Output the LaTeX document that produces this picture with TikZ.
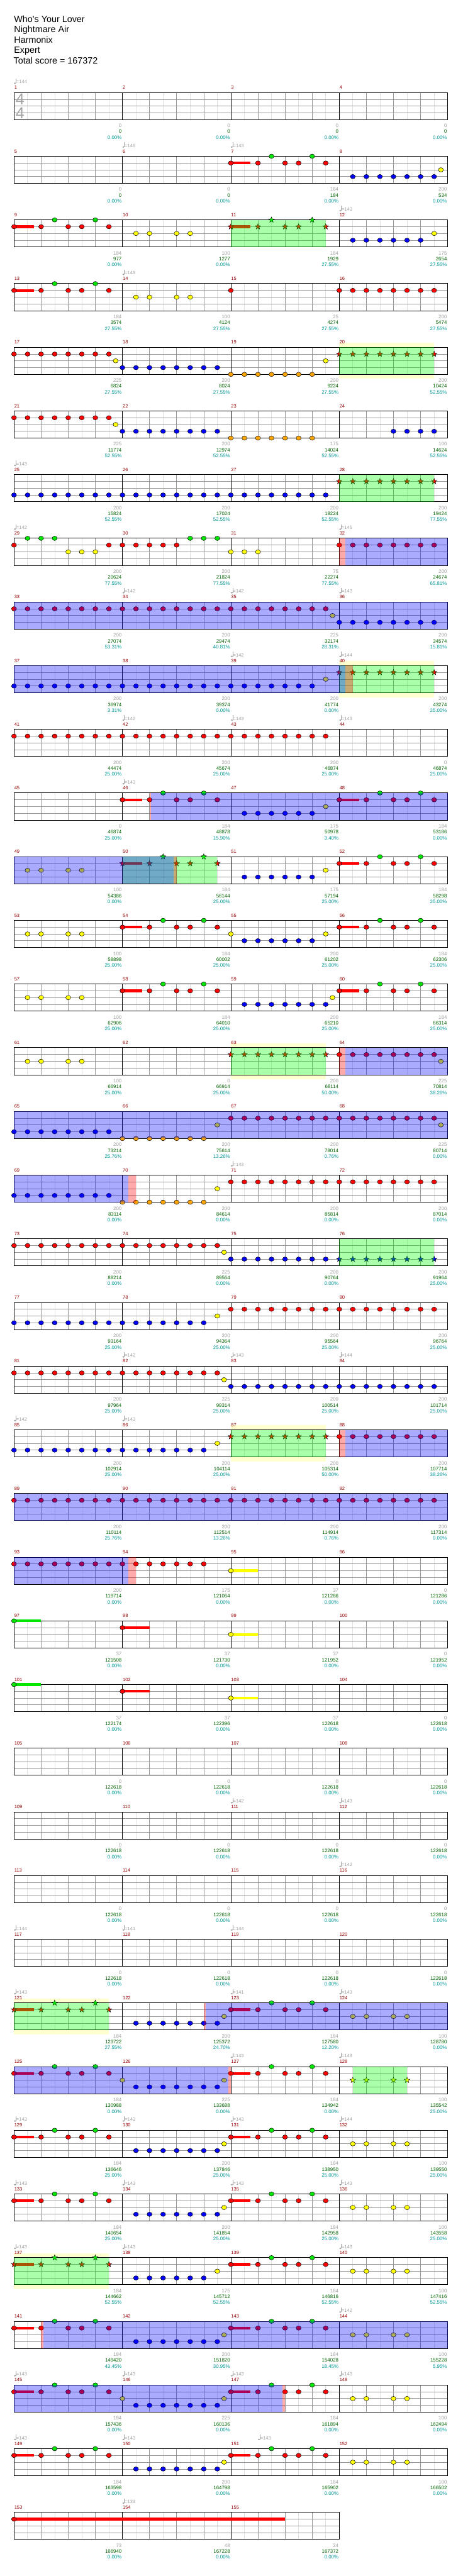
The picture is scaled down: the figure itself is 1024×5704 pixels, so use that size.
\documentclass[tikz,border=0pt]{standalone}
\usepackage{fontspec}
\setmainfont{Liberation Sans}
\usetikzlibrary{shapes.geometric}
\definecolor{cR}{RGB}{255,0,0}
\definecolor{cG}{RGB}{0,230,0}
\definecolor{cY}{RGB}{255,255,0}
\definecolor{cB}{RGB}{0,0,255}
\definecolor{cO}{RGB}{255,165,0}
\definecolor{mnumc}{RGB}{150,0,0}
\definecolor{grayc}{RGB}{160,160,160}
\definecolor{cumc}{RGB}{0,100,0}
\definecolor{pctc}{RGB}{0,150,150}
\definecolor{lEc}{RGB}{225,225,225}
\definecolor{lQc}{RGB}{150,150,150}
\definecolor{ybgc}{RGB}{255,255,208}
\definecolor{tsc}{RGB}{165,165,165}
\tikzset{
 lE/.style={draw=lEc, line width=1},
 lQ/.style={draw=lQc, line width=1},
 lB/.style={draw=black, line width=1},
 lBorder/.style={draw=black, line width=1.4},
 notest/.style={draw=black, line width=0.7},
 starst/.style={star, star points=5, star point ratio=2.4, minimum size=13, inner sep=0pt, draw=black, line width=0.6},
 smalltxt/.style={font=\fontsize{11}{13}\selectfont, inner sep=0pt},
 mnum/.style={font=\fontsize{10.5}{12}\selectfont, inner sep=0pt, text=mnumc, anchor=base west},
 scG/.style={smalltxt, text=grayc, anchor=base east},
 scK/.style={smalltxt, text=cumc, anchor=base east},
 scT/.style={smalltxt, text=pctc, anchor=base east},
 tempotxt/.style={font=\fontsize{10.5}{12}\selectfont, inner sep=0pt, text=grayc, anchor=base west},
 hdr/.style={font=\fontsize{20}{24}\selectfont, inner sep=0pt, anchor=base west},
 tsig/.style={font=\fontsize{35}{35}\selectfont, text=tsc, inner sep=0pt},
}
\newcommand\rowat[1]{\pgfmathsetmacro\rT{205+141*(#1-1)}}
\newcommand\nt[3]{\draw[notest, fill=#1] ({31+30*(#3)},{\rT+#2}) ellipse [x radius=5.5, y radius=4.8];}
\newcommand\nts[3]{\foreach \ci in {#3} {\nt{#1}{#2}{\ci}}}
\newcommand\stn[3]{\node[starst, fill=#1] at ({31+30*(#3)},{\rT+#2}) {};}
\newcommand\stns[3]{\foreach \ci in {#3} {\stn{#1}{#2}{\ci}}}
\newcommand\sus[4]{\fill[#1] ({31+30*(#3)},{\rT+#2-3}) rectangle ({31+30*(#3+#4)},{\rT+#2+3});}
\newcommand\Rn[1]{\nts{cR}{15}{#1}}
\newcommand\Gn[1]{\nts{cG}{0}{#1}}
\newcommand\Yn[1]{\nts{cY}{30}{#1}}
\newcommand\Bn[1]{\nts{cB}{45}{#1}}
\newcommand\On[1]{\nts{cO}{60}{#1}}
\newcommand\Rst[1]{\stns{cR}{15}{#1}}
\newcommand\Gst[1]{\stns{cG}{0}{#1}}
\newcommand\Yst[1]{\stns{cY}{30}{#1}}
\newcommand\Bst[1]{\stns{cB}{45}{#1}}
\newcommand\riffA[1]{\sus{cR}{15}{#1}{1.46}\Rn{#1,#1+2,#1+4,#1+5,#1+7}\Gn{#1+3,#1+6}}
\newcommand\sriffA[1]{\sus{cR}{15}{#1}{1.46}\Rst{#1,#1+2,#1+4,#1+5,#1+7}\Gst{#1+3,#1+6}}
\newcommand\ov[3]{\fill[#1, fill opacity=0.333] ({31+30*(#2)},\rT) rectangle ({31+30*(#3)},{\rT+60});}
\newcommand\GR[2]{\ov{green}{#1}{#2}}
\newcommand\BR[2]{\ov{blue}{#1}{#2}}
\newcommand\RR[2]{\ov{red}{#1}{#2}}
\newcommand\YB[2]{\fill[ybgc] ({31+30*(#1)},{\rT-10}) rectangle ({31+30*(#2)},{\rT+70});}
\newcommand\tp[2]{%
 \fill[grayc] ({31+30*(#1)+2.2},{\rT-20.5}) ellipse [x radius=2.3, y radius=1.8];
 \draw[grayc, line width=0.8] ({31+30*(#1)+4},{\rT-20.5}) -- ({31+30*(#1)+4},{\rT-31});
 \node[tempotxt] at ({31+30*(#1)+5},{\rT-20}) {=#2};}
\newcommand\msc[4]{%
 \node[scG] at ({31+240*#1-1.5},{\rT+77.3}) {#2};
 \node[scK] at ({31+240*#1-1.5},{\rT+90.2}) {#3};
 \node[scT] at ({31+240*#1-1.5},{\rT+103.3}) {#4};}
\newcommand\staff[2]{%
 \pgfmathsetmacro\sW{240*#1}%
 \pgfmathtruncatemacro\nE{8*#1-1}%
 \pgfmathtruncatemacro\nQ{8*#1-2}%
 \pgfmathtruncatemacro\nB{#1-1}%
 \fill[white] (31,\rT) rectangle ({31+\sW},{\rT+60});
 \foreach \ii in {1,3,...,\nE} {\draw[lE] ({31+30*\ii},\rT) -- ++(0,60);}
 \foreach \ii in {2,4,...,\nQ} {\draw[lQ] ({31+30*\ii},\rT) -- ++(0,60);}
 \foreach \yy in {15,30,45} {\draw[lQ] (31,{\rT+\yy}) -- ({31+\sW},{\rT+\yy});}
 \foreach \ii in {1,...,\nB} {\draw[lB] ({31+240*\ii},\rT) -- ++(0,60);}
 \draw[lBorder] (31,\rT) rectangle ({31+\sW},{\rT+60});
 \foreach \ii in {0,...,\nB} {\pgfmathtruncatemacro\mm{#2+\ii}\node[mnum] at ({31.5+240*\ii},{\rT-7.5}) {\mm};}
}
\begin{document}
\begin{tikzpicture}[x=1pt,y=-1pt]
\useasboundingbox (0,0) rectangle (1024,5704);
\fill[white] (0,0) rectangle (1024,5704);
\node[hdr] (h1) at (31,49) {Who\textquotesingle s Your Lover};
\node[hdr] (h2) at (31,72) {Nightmare Air};
\node[hdr] (h3) at (31,95) {Harmonix};
\node[hdr] (h4) at (31,118) {Expert};
\node[hdr] (h5) at (30,141) {Total score = 167372};
% row 1
\rowat{1}\staff{4}{1}
\node[tsig] (ts1) at (44.5,220.5) {4};
\node[tsig] (ts2) at (44.5,250.5) {4};
\tp{0}{144}
\msc{1}{0}{0}{0.00\%}\msc{2}{0}{0}{0.00\%}\msc{3}{0}{0}{0.00\%}\msc{4}{0}{0}{0.00\%}
% row 2
\rowat{2}\staff{4}{5}\tp{8}{146}\tp{16}{143}
\riffA{16}\Bn{25,...,31}\Yn{31.5}
\msc{1}{0}{0}{0.00\%}\msc{2}{0}{0}{0.00\%}\msc{3}{184}{184}{0.00\%}\msc{4}{200}{534}{0.00\%}
% row 3
\rowat{3}\staff{4}{9}\tp{24}{143}
\riffA{0}\Yn{9,10,12,13}\sriffA{16}\Bn{25,...,30}\Yn{31}
\GR{16}{23}
\msc{1}{184}{977}{0.00\%}\msc{2}{100}{1277}{0.00\%}\msc{3}{184}{1929}{27.55\%}\msc{4}{175}{2654}{27.55\%}
% row 4
\rowat{4}\staff{4}{13}\tp{8}{143}
\riffA{0}\Yn{9,10,12,13}\Rn{16}\Rn{24,...,31}
\msc{1}{184}{3574}{27.55\%}\msc{2}{100}{4124}{27.55\%}\msc{3}{25}{4274}{27.55\%}\msc{4}{200}{5474}{27.55\%}
% row 5
\rowat{5}\YB{24}{31}\staff{4}{17}
\Rn{0,...,7}\Yn{7.5}\Bn{8,...,15}\On{16,...,22}\Yn{23}\Rst{24,...,31}
\GR{24}{31}
\msc{1}{225}{6824}{27.55\%}\msc{2}{200}{8024}{27.55\%}\msc{3}{200}{9224}{27.55\%}\msc{4}{200}{10424}{52.55\%}
% row 6
\rowat{6}\staff{4}{21}
\Rn{0,...,7}\Yn{7.5}\Bn{8,...,15}\On{16,...,22}\Bn{28,...,31}
\msc{1}{225}{11774}{52.55\%}\msc{2}{200}{12974}{52.55\%}\msc{3}{175}{14024}{52.55\%}\msc{4}{100}{14624}{52.55\%}
% row 7
\rowat{7}\staff{4}{25}\tp{0}{143}
\Bn{0,...,23}\Rst{24,...,31}\GR{24}{31}
\msc{1}{200}{15824}{52.55\%}\msc{2}{200}{17024}{52.55\%}\msc{3}{200}{18224}{52.55\%}\msc{4}{200}{19424}{77.55\%}
% row 8
\rowat{8}\staff{4}{29}\tp{0}{142}\tp{24}{145}
\Rn{0,7}\Rn{8,...,12}\Gn{1,2,3}\Yn{4,5,6}\Gn{13,14,15}\Yn{16,17,18}\Rn{24,...,31}
\RR{24}{24.47}\BR{24.47}{32}
\msc{1}{200}{20624}{77.55\%}\msc{2}{200}{21824}{77.55\%}\msc{3}{75}{22274}{77.55\%}\msc{4}{200}{24674}{65.81\%}
% row 9
\rowat{9}\staff{4}{33}\tp{8}{142}\tp{16}{142}\tp{24}{143}
\Rn{0,...,23}\Yn{23.5}\Bn{24,...,31}\BR{0}{32}
\msc{1}{200}{27074}{53.31\%}\msc{2}{200}{29474}{40.81\%}\msc{3}{225}{32174}{28.31\%}\msc{4}{200}{34574}{15.81\%}
% row 10
\rowat{10}\YB{24}{31}\staff{4}{37}\tp{16}{142}\tp{24}{144}
\Bn{0,...,22}\Yn{23}\Rst{24,...,31}
\GR{24}{31}\BR{0}{24.47}\RR{24.47}{25}
\msc{1}{200}{36974}{3.31\%}\msc{2}{200}{39374}{0.00\%}\msc{3}{200}{41774}{0.00\%}\msc{4}{200}{43274}{25.00\%}
% row 11
\rowat{11}\staff{4}{41}\tp{8}{142}\tp{16}{143}\tp{24}{143}
\Rn{0,...,23}
\msc{1}{200}{44474}{25.00\%}\msc{2}{200}{45674}{25.00\%}\msc{3}{200}{46874}{25.00\%}\msc{4}{0}{46874}{25.00\%}
% row 12
\rowat{12}\staff{4}{45}\tp{8}{143}
\riffA{8}\Bn{17,...,22}\Yn{23}\riffA{24}
\RR{10}{10.12}\BR{10.12}{32}
\msc{1}{0}{46874}{25.00\%}\msc{2}{184}{48878}{15.90\%}\msc{3}{175}{50978}{3.40\%}\msc{4}{184}{53186}{0.00\%}
% row 13
\rowat{13}\staff{4}{49}
\Yn{1,2,4,5}\sriffA{8}\Bn{17,...,22}\Yn{23}\riffA{24}
\GR{8}{15}\BR{0}{11.8}\RR{11.8}{12}
\msc{1}{100}{54386}{0.00\%}\msc{2}{184}{56144}{25.00\%}\msc{3}{175}{57194}{25.00\%}\msc{4}{184}{58298}{25.00\%}
% row 14
\rowat{14}\staff{4}{53}
\Yn{1,2,4,5}\riffA{8}\Yn{16}\Bn{17,...,22}\Yn{23}\riffA{24}
\msc{1}{100}{58898}{25.00\%}\msc{2}{184}{60002}{25.00\%}\msc{3}{200}{61202}{25.00\%}\msc{4}{184}{62306}{25.00\%}
% row 15
\rowat{15}\staff{4}{57}
\Yn{1,2,4,5}\riffA{8}\Bn{17,...,23}\Yn{23.5}\riffA{24}
\msc{1}{100}{62906}{25.00\%}\msc{2}{184}{64010}{25.00\%}\msc{3}{200}{65210}{25.00\%}\msc{4}{184}{66314}{25.00\%}
% row 16
\rowat{16}\YB{16}{23}\staff{4}{61}
\Yn{1,2,4,5}\Rst{16,...,23}\Rn{24,...,31}\Yn{31.5}
\GR{16}{23}\RR{24}{24.47}\BR{24.47}{32}
\msc{1}{100}{66914}{25.00\%}\msc{2}{0}{66914}{25.00\%}\msc{3}{200}{68114}{50.00\%}\msc{4}{225}{70814}{38.26\%}
% row 17
\rowat{17}\staff{4}{65}
\Bn{0,...,7}\On{8,...,14}\Yn{15}\Rn{16,...,31}\Yn{31.5}\BR{0}{32}
\msc{1}{200}{73214}{25.76\%}\msc{2}{200}{75614}{13.26\%}\msc{3}{200}{78014}{0.76\%}\msc{4}{225}{80714}{0.00\%}
% row 18
\rowat{18}\staff{4}{69}\tp{16}{143}
\Bn{0,...,7}\On{8,...,14}\Yn{15}\Rn{16,...,31}\BR{0}{8.45}\RR{8.45}{9}
\msc{1}{200}{83114}{0.00\%}\msc{2}{200}{84614}{0.00\%}\msc{3}{200}{85814}{0.00\%}\msc{4}{200}{87014}{0.00\%}
% row 19
\rowat{19}\staff{4}{73}
\Rn{0,...,15}\Yn{15.5}\Bn{16,...,23}\Bst{24,...,31}\GR{24}{31}
\msc{1}{200}{88214}{0.00\%}\msc{2}{225}{89564}{0.00\%}\msc{3}{200}{90764}{0.00\%}\msc{4}{200}{91964}{25.00\%}
% row 20
\rowat{20}\staff{4}{77}
\Bn{0,...,14}\Yn{15}\Rn{16,...,31}
\msc{1}{200}{93164}{25.00\%}\msc{2}{200}{94364}{25.00\%}\msc{3}{200}{95564}{25.00\%}\msc{4}{200}{96764}{25.00\%}
% row 21
\rowat{21}\staff{4}{81}\tp{8}{142}\tp{16}{143}\tp{24}{144}
\Rn{0,...,15}\Yn{15.5}\Bn{16,...,31}
\msc{1}{200}{97964}{25.00\%}\msc{2}{225}{99314}{25.00\%}\msc{3}{200}{100514}{25.00\%}\msc{4}{200}{101714}{25.00\%}
% row 22
\rowat{22}\YB{16}{23}\staff{4}{85}\tp{0}{142}\tp{8}{143}
\Bn{0,...,14}\Yn{15}\Rst{16,...,23}\Rn{24,...,31}
\GR{16}{23}\RR{24}{24.47}\BR{24.47}{32}
\msc{1}{200}{102914}{25.00\%}\msc{2}{200}{104114}{25.00\%}\msc{3}{200}{105314}{50.00\%}\msc{4}{200}{107714}{38.26\%}
% row 23
\rowat{23}\staff{4}{89}
\Rn{0,...,31}\BR{0}{32}
\msc{1}{200}{110114}{25.76\%}\msc{2}{200}{112514}{13.26\%}\msc{3}{200}{114914}{0.76\%}\msc{4}{200}{117314}{0.00\%}
% row 24
\rowat{24}\staff{4}{93}
\Rn{0,...,14}\sus{cY}{30}{16}{2}\Yn{16}\BR{0}{8.45}\RR{8.45}{9}
\msc{1}{200}{119714}{0.00\%}\msc{2}{175}{121064}{0.00\%}\msc{3}{37}{121286}{0.00\%}\msc{4}{0}{121286}{0.00\%}
% row 25
\rowat{25}\staff{4}{97}
\sus{cG}{0}{0}{2}\Gn{0}\sus{cR}{15}{8}{2}\Rn{8}\sus{cY}{30}{16}{2}\Yn{16}
\msc{1}{37}{121508}{0.00\%}\msc{2}{37}{121730}{0.00\%}\msc{3}{37}{121952}{0.00\%}\msc{4}{0}{121952}{0.00\%}
% row 26
\rowat{26}\staff{4}{101}
\sus{cG}{0}{0}{2}\Gn{0}\sus{cR}{15}{8}{2}\Rn{8}\sus{cY}{30}{16}{2}\Yn{16}
\msc{1}{37}{122174}{0.00\%}\msc{2}{37}{122396}{0.00\%}\msc{3}{37}{122618}{0.00\%}\msc{4}{0}{122618}{0.00\%}
% row 27
\rowat{27}\staff{4}{105}
\msc{1}{0}{122618}{0.00\%}\msc{2}{0}{122618}{0.00\%}\msc{3}{0}{122618}{0.00\%}\msc{4}{0}{122618}{0.00\%}
% row 28
\rowat{28}\staff{4}{109}\tp{16}{142}\tp{24}{143}
\msc{1}{0}{122618}{0.00\%}\msc{2}{0}{122618}{0.00\%}\msc{3}{0}{122618}{0.00\%}\msc{4}{0}{122618}{0.00\%}
% row 29
\rowat{29}\staff{4}{113}\tp{24}{142}
\msc{1}{0}{122618}{0.00\%}\msc{2}{0}{122618}{0.00\%}\msc{3}{0}{122618}{0.00\%}\msc{4}{0}{122618}{0.00\%}
% row 30
\rowat{30}\staff{4}{117}\tp{0}{144}\tp{8}{141}\tp{16}{144}
\msc{1}{0}{122618}{0.00\%}\msc{2}{0}{122618}{0.00\%}\msc{3}{0}{122618}{0.00\%}\msc{4}{0}{122618}{0.00\%}
% row 31
\rowat{31}\YB{0}{7}\staff{4}{121}\tp{0}{143}\tp{16}{141}\tp{24}{143}
\sriffA{0}\Bn{9,...,15}\Yn{15.5}\riffA{16}\Yn{25,26,28,29}
\GR{0}{7}\RR{14}{14.13}\BR{14.13}{32}
\msc{1}{184}{123722}{27.55\%}\msc{2}{200}{125372}{24.70\%}\msc{3}{184}{127580}{12.20\%}\msc{4}{100}{128780}{0.00\%}
% row 32
\rowat{32}\staff{4}{125}\tp{16}{143}\tp{24}{143}
\riffA{0}\Yn{8}\Bn{9,...,15}\Yn{15.5}\riffA{16}\Yst{25,26,28,29}
\GR{25}{29}\BR{0}{15.82}\RR{15.82}{16}
\msc{1}{184}{130988}{0.00\%}\msc{2}{225}{133688}{0.00\%}\msc{3}{184}{134942}{0.00\%}\msc{4}{100}{135542}{25.00\%}
% row 33
\rowat{33}\staff{4}{129}\tp{0}{143}\tp{8}{143}\tp{16}{143}\tp{24}{144}
\riffA{0}\Bn{9,...,15}\Yn{15.5}\riffA{16}\Yn{25,26,28,29}
\msc{1}{184}{136646}{25.00\%}\msc{2}{200}{137846}{25.00\%}\msc{3}{184}{138950}{25.00\%}\msc{4}{100}{139550}{25.00\%}
% row 34
\rowat{34}\staff{4}{133}\tp{0}{143}\tp{8}{143}\tp{16}{143}\tp{24}{143}
\riffA{0}\Bn{9,...,15}\Yn{15.5}\riffA{16}\Yn{25,26,28,29}
\msc{1}{184}{140654}{25.00\%}\msc{2}{200}{141854}{25.00\%}\msc{3}{184}{142958}{25.00\%}\msc{4}{100}{143558}{25.00\%}
% row 35
\rowat{35}\YB{0}{7}\staff{4}{137}\tp{0}{143}\tp{8}{143}\tp{24}{143}
\sriffA{0}\Bn{9,...,14}\Yn{15}\riffA{16}\Yn{25,26,28,29}\GR{0}{7}
\msc{1}{184}{144662}{52.55\%}\msc{2}{175}{145712}{52.55\%}\msc{3}{184}{146816}{52.55\%}\msc{4}{100}{147416}{52.55\%}
% row 36
\rowat{36}\staff{4}{141}\tp{24}{142}
\riffA{0}\Bn{9,...,15}\Yn{15.5}\riffA{16}\Yn{25,26,28,29}
\RR{2}{2.15}\BR{2.15}{32}
\msc{1}{184}{149420}{43.45\%}\msc{2}{200}{151820}{30.95\%}\msc{3}{184}{154028}{18.45\%}\msc{4}{100}{155228}{5.95\%}
% row 37
\rowat{37}\staff{4}{145}\tp{0}{143}\tp{8}{143}\tp{16}{143}\tp{24}{143}
\riffA{0}\Yn{8}\Bn{9,...,15}\Yn{15.5}\riffA{16}\Yn{25,26,28,29}
\BR{0}{19.79}\RR{19.79}{20}
\msc{1}{184}{157436}{0.00\%}\msc{2}{225}{160136}{0.00\%}\msc{3}{184}{161894}{0.00\%}\msc{4}{100}{162494}{0.00\%}
% row 38
\rowat{38}\staff{4}{149}\tp{0}{143}\tp{8}{143}\tp{18}{143}
\riffA{0}\Bn{9,...,15}\Yn{15.5}\riffA{16}\Yn{25,26,28,29}
\msc{1}{184}{163598}{0.00\%}\msc{2}{200}{164798}{0.00\%}\msc{3}{184}{165902}{0.00\%}\msc{4}{100}{166502}{0.00\%}
% row 39
\rowat{39}\staff{3}{153}\tp{8}{133}
\sus{cR}{15}{0}{20}\Rn{0}
\msc{1}{73}{166940}{0.00\%}\msc{2}{48}{167228}{0.00\%}\msc{3}{24}{167372}{0.00\%}
\end{tikzpicture}
\end{document}
